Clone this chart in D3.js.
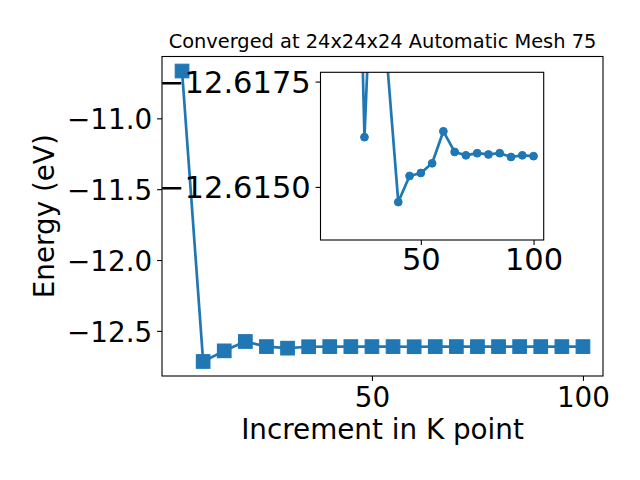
<!DOCTYPE html>
<html>
<head>
<meta charset="utf-8">
<script src="https://cdn.jsdelivr.net/npm/d3@7"></script>
<style>
  html, body { margin: 0; padding: 0; background: #fff; }
  svg { display: block; font-family: "DejaVu Sans", sans-serif; }
</style>
</head>
<body>
<svg id="chart" width="640" height="480"></svg>
<script>
// ---- data ----
const kpoints = [5, 10, 15, 20, 25, 30, 35, 40, 45, 50, 55, 60, 65, 70, 75, 80, 85, 90, 95, 100];
const mainEnergy = [-10.666, -12.716, -12.641, -12.575, -12.611, -12.622, -12.612, -12.611, -12.611, -12.611,
                    -12.611, -12.612, -12.611, -12.611, -12.611, -12.611, -12.611, -12.611, -12.611, -12.611];
const insetK = [10, 15, 20, 25, 30, 35, 40, 45, 50, 55, 60, 65, 70, 75, 80, 85, 90, 95, 100];
const insetEnergy = [-12.716, -12.641, -12.627, -12.61618, -12.6226, -12.6180, -12.61464, -12.61526, -12.61533,
                     -12.61556, -12.61632, -12.61583, -12.61575, -12.61580, -12.61577, -12.61580, -12.61571,
                     -12.61575, -12.61573];
const mainXTicks = [50, 100];
const mainYTicks = [-12.5, -12.0, -11.5, -11.0];
const insetXTicks = [50, 100];
const insetYTicks = [-12.6175, -12.6150];
const title = "Converged at 24x24x24 Automatic Mesh 75";
const xLabel = "Increment in K point";
const yLabel = "Energy (eV)";

const color = "#1f77b4";
const fs = 27.8;
const ifs = 30.5;
const svg = d3.select("#chart");
const minus = s => s.replace("-", "\u2212");

// ---- main axes ----
const M = {left: 162, right: 603, top: 56.5, bottom: 376};
const xPad = (d3.max(kpoints) - d3.min(kpoints)) * 0.05;
const x = d3.scaleLinear().domain([d3.min(kpoints) - xPad, d3.max(kpoints) + xPad]).range([M.left, M.right]);
const yPad = (d3.max(mainEnergy) - d3.min(mainEnergy)) * 0.05;
const y = d3.scaleLinear().domain([d3.min(mainEnergy) - yPad, d3.max(mainEnergy) + yPad]).range([M.bottom, M.top]);

svg.append("defs").append("clipPath").attr("id", "mainClip")
  .append("rect").attr("x", M.left).attr("y", M.top).attr("width", M.right - M.left).attr("height", M.bottom - M.top);

const main = svg.append("g");
const mplot = main.append("g").attr("clip-path", "url(#mainClip)");
mplot.append("path")
  .datum(kpoints.map((k, i) => [k, mainEnergy[i]]))
  .attr("fill", "none").attr("stroke", color).attr("stroke-width", 2.7).attr("stroke-linejoin", "round")
  .attr("d", d3.line().x(d => x(d[0])).y(d => y(d[1])));
const sq = 13.6;
mplot.selectAll("rect.m").data(kpoints.map((k, i) => [k, mainEnergy[i]])).enter()
  .append("rect").attr("class", "m")
  .attr("x", d => x(d[0]) - sq / 2).attr("y", d => y(d[1]) - sq / 2)
  .attr("width", sq).attr("height", sq)
  .attr("fill", color).attr("stroke", color).attr("stroke-width", 1.1);

main.append("rect").attr("x", M.left).attr("y", M.top).attr("width", M.right - M.left).attr("height", M.bottom - M.top)
  .attr("fill", "none").attr("stroke", "#000").attr("stroke-width", 1.1);

const mx = main.append("g").attr("transform", `translate(0,${M.bottom})`)
  .call(d3.axisBottom(x).tickValues(mainXTicks).tickFormat(d3.format("d")).tickSize(4.9).tickSizeOuter(0).tickPadding(6.3));
const my = main.append("g").attr("transform", `translate(${M.left},0)`)
  .call(d3.axisLeft(y).tickValues(mainYTicks).tickFormat(d => minus(d3.format(".1f")(d))).tickSize(4.9).tickSizeOuter(0).tickPadding(4.9));
[mx, my].forEach(g => {
  g.select(".domain").remove();
  g.selectAll(".tick line").attr("stroke", "#000").attr("stroke-width", 1.1);
  g.selectAll(".tick text").attr("font-size", fs).attr("font-family", "DejaVu Sans").attr("fill", "#000");
});
my.selectAll(".tick text").attr("dy", "0.38em");

svg.append("text").attr("x", (M.left + M.right) / 2).attr("y", 48)
  .attr("text-anchor", "middle").attr("font-size", 19.4).text(title);
svg.append("text").attr("x", (M.left + M.right) / 2).attr("y", 439)
  .attr("text-anchor", "middle").attr("font-size", fs).text(xLabel);
svg.append("text").attr("transform", `translate(54,${(M.top + M.bottom) / 2}) rotate(-90)`)
  .attr("text-anchor", "middle").attr("font-size", fs).text(yLabel);

// ---- inset axes ----
const I = {left: 320.5, right: 543.7, top: 72.3, bottom: 240};
const ixPad = (d3.max(insetK) - d3.min(insetK)) * 0.05;
const ix = d3.scaleLinear().domain([d3.min(insetK) - ixPad, d3.max(insetK) + ixPad]).range([I.left, I.right]);
const iy = d3.scaleLinear().domain([-12.61374, -12.61772]).range([I.bottom, I.top]);

svg.select("defs").append("clipPath").attr("id", "insetClip")
  .append("rect").attr("x", I.left).attr("y", I.top).attr("width", I.right - I.left).attr("height", I.bottom - I.top);

const inset = svg.append("g");
inset.append("rect").attr("x", I.left).attr("y", I.top).attr("width", I.right - I.left).attr("height", I.bottom - I.top)
  .attr("fill", "#fff");
const iplot = inset.append("g").attr("clip-path", "url(#insetClip)");
const idata = insetK.map((k, i) => [k, insetEnergy[i]]);
iplot.append("path").datum(idata)
  .attr("fill", "none").attr("stroke", color).attr("stroke-width", 2.7).attr("stroke-linejoin", "round")
  .attr("d", d3.line().x(d => ix(d[0])).y(d => iy(d[1])));
iplot.selectAll("circle").data(idata).enter().append("circle")
  .attr("cx", d => ix(d[0])).attr("cy", d => iy(d[1])).attr("r", 3.9)
  .attr("fill", color).attr("stroke", color).attr("stroke-width", 1);
inset.append("rect").attr("x", I.left).attr("y", I.top).attr("width", I.right - I.left).attr("height", I.bottom - I.top)
  .attr("fill", "none").attr("stroke", "#000").attr("stroke-width", 1.1);

const ixa = inset.append("g").attr("transform", `translate(0,${I.bottom})`)
  .call(d3.axisBottom(ix).tickValues(insetXTicks).tickFormat(d3.format("d")).tickSize(4.9).tickSizeOuter(0).tickPadding(3.6));
const iya = inset.append("g").attr("transform", `translate(${I.left},0)`)
  .call(d3.axisLeft(iy).tickValues(insetYTicks).tickFormat(d => minus(d3.format(".4f")(d))).tickSize(4.9).tickSizeOuter(0).tickPadding(4.9));
[ixa, iya].forEach(g => {
  g.select(".domain").remove();
  g.selectAll(".tick line").attr("stroke", "#000").attr("stroke-width", 1.1);
  g.selectAll(".tick text").attr("font-size", ifs).attr("font-family", "DejaVu Sans").attr("fill", "#000");
});
iya.selectAll(".tick text").attr("dy", "0.36em");
</script>
</body>
</html>
